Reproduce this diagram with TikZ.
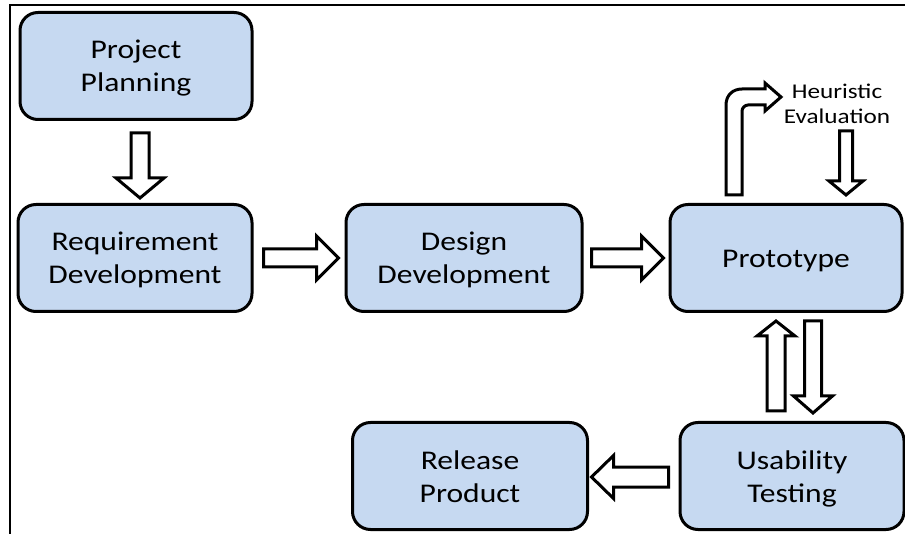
\documentclass[tikz,border=0pt]{standalone}
\usepackage{fontspec}
\setmainfont{Carlito}
\usepackage{graphicx}
\usetikzlibrary{calc}

\definecolor{boxblue}{HTML}{C6D9F1}

% two-line label, slightly widened and set a little lower in its box
\newcommand\widelabel[3][1.17]{%
  \setbox0=\hbox{\scalebox{#1}[1]{\begin{tabular}{@{}c@{}}#3\end{tabular}}}%
  \dimen0=\ht0 \dimen2=\dp0
  \setbox2=\hbox{\lower#2\box0}%
  \ht2=\dimen0 \dp2=\dimen2
  \box2}

% hollow block arrow: tail point, rotation, length, shaft half-width, head half-width, head length
\newcommand\blockarrow[6]{%
  \draw[blockarr, shift={(#1)}, rotate=#2]
    (0,-#4) -- (#3-#6,-#4) -- (#3-#6,-#5) -- (#3,0) -- (#3-#6,#5) -- (#3-#6,#4) -- (0,#4) -- cycle;}

\tikzset{
  stage/.style={draw=black, line width=3pt, fill=boxblue, rounded corners=18pt,
    minimum width=#1, minimum height=107pt, inner sep=0pt,
    font=\fontsize{27}{33}\selectfont},
  stage/.default=232pt,
  blockarr/.style={draw=black, line width=3pt, fill=white, line join=miter},
  frameline/.style={draw=black, line width=2.5pt},
}

\begin{document}
\begin{tikzpicture}[x=1pt, y=-1pt]
  \useasboundingbox (0,0) rectangle (905,534);

  % outer frame (top and left edges)
  \draw[frameline] (10,534) -- (10,5) -- (905,5);

  % stages
  \node[stage]        (pp) at (136,66)  {\widelabel{2.5pt}{Project\\Planning}};
  \node[stage=234pt]  (rd) at (135,258) {\widelabel{2.5pt}{Requirement\\Development}};
  \node[stage=236pt]  (dd) at (464,258) {\widelabel{2.5pt}{Design\\Development}};
  \node[stage]        (pt) at (786,258) {\widelabel{3pt}{Prototype}};
  \node[stage=224pt]  (ut) at (792,476) {\widelabel{3pt}{Usability\\Testing}};
  \node[stage=235pt]  (rp) at (470,476) {\widelabel{3pt}{Release\\Product}};

  % side label above the prototype
  \node[font=\fontsize{21}{25}\selectfont, inner sep=0pt] (he) at (837,106)
    {\widelabel[1.2]{0pt}{Heuristic\\Evaluation}};

  % straight block arrows
  \blockarrow{$(pp.south)+(4,12)$}{-90}{65}{9}{24}{20}
  \blockarrow{$(rd.east)+(10,0)$}{0}{75}{9}{22}{22}
  \blockarrow{$(dd.east)+(8,0)$}{0}{72}{9}{22}{22}
  \blockarrow{$(pt.north)+(60,-72)$}{-90}{64}{6.5}{17}{14}
  \blockarrow{$(ut.north)+(-16,-10)$}{90}{90}{9}{19}{15}
  \blockarrow{$(pt.north)+(27,118)$}{-90}{92}{8.5}{19.5}{17}
  \blockarrow{$(ut.west)+(-10,1)$}{180}{77}{10}{21.5}{22}

  % bent arrow from the prototype up to the heuristic evaluation
  \begin{scope}[shift={(pt.north)}]
    \draw[blockarr]
      (-60,-8) -- (-60,-98)
      .. controls (-60,-108) and (-53,-114) .. (-44,-114)
      -- (-21,-114) -- (-21,-120) -- (-5,-106) -- (-21,-92) -- (-21,-98)
      -- (-38,-98)
      .. controls (-41,-98) and (-44,-95) .. (-44,-92)
      -- (-44,-8) -- cycle;
  \end{scope}
\end{tikzpicture}
\end{document}
